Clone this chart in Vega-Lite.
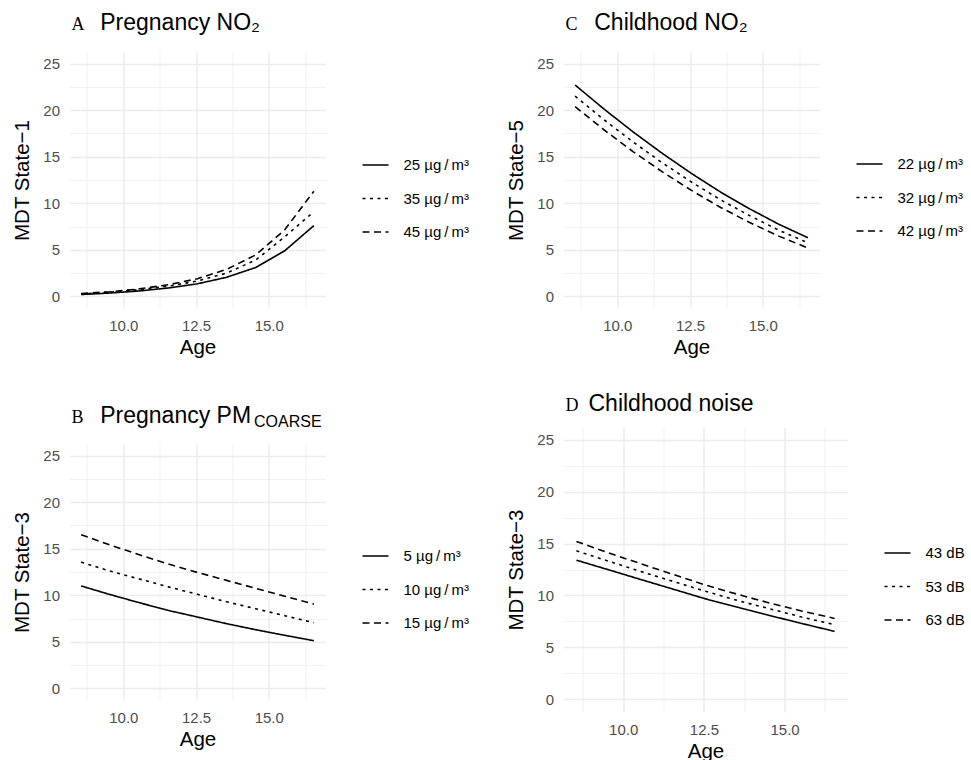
{
  "$schema": "https://vega.github.io/schema/vega-lite/v6.json",
  "padding": {"left": 11.5, "top": 12, "right": 5, "bottom": 5},
  "datasets": {
    "a": [
      {"age": 8.55, "level": "25 µg\u2009/\u2009m³", "value": 0.2},
      {"age": 9.55, "level": "25 µg\u2009/\u2009m³", "value": 0.36},
      {"age": 10.55, "level": "25 µg\u2009/\u2009m³", "value": 0.58},
      {"age": 11.55, "level": "25 µg\u2009/\u2009m³", "value": 0.9},
      {"age": 12.55, "level": "25 µg\u2009/\u2009m³", "value": 1.35},
      {"age": 13.55, "level": "25 µg\u2009/\u2009m³", "value": 2.05},
      {"age": 14.55, "level": "25 µg\u2009/\u2009m³", "value": 3.1},
      {"age": 15.55, "level": "25 µg\u2009/\u2009m³", "value": 4.9},
      {"age": 16.55, "level": "25 µg\u2009/\u2009m³", "value": 7.6},
      {"age": 8.55, "level": "35 µg\u2009/\u2009m³", "value": 0.25},
      {"age": 9.55, "level": "35 µg\u2009/\u2009m³", "value": 0.45},
      {"age": 10.55, "level": "35 µg\u2009/\u2009m³", "value": 0.72},
      {"age": 11.55, "level": "35 µg\u2009/\u2009m³", "value": 1.1},
      {"age": 12.55, "level": "35 µg\u2009/\u2009m³", "value": 1.65},
      {"age": 13.55, "level": "35 µg\u2009/\u2009m³", "value": 2.5},
      {"age": 14.55, "level": "35 µg\u2009/\u2009m³", "value": 3.9},
      {"age": 15.55, "level": "35 µg\u2009/\u2009m³", "value": 6.4},
      {"age": 16.55, "level": "35 µg\u2009/\u2009m³", "value": 9.1},
      {"age": 8.55, "level": "45 µg\u2009/\u2009m³", "value": 0.3},
      {"age": 9.55, "level": "45 µg\u2009/\u2009m³", "value": 0.5},
      {"age": 10.55, "level": "45 µg\u2009/\u2009m³", "value": 0.8},
      {"age": 11.55, "level": "45 µg\u2009/\u2009m³", "value": 1.25},
      {"age": 12.55, "level": "45 µg\u2009/\u2009m³", "value": 1.9},
      {"age": 13.55, "level": "45 µg\u2009/\u2009m³", "value": 2.9},
      {"age": 14.55, "level": "45 µg\u2009/\u2009m³", "value": 4.45},
      {"age": 15.55, "level": "45 µg\u2009/\u2009m³", "value": 7.15},
      {"age": 16.55, "level": "45 µg\u2009/\u2009m³", "value": 11.3}
    ],
    "b": [
      {"age": 8.55, "level": "5 µg\u2009/\u2009m³", "value": 11.0},
      {"age": 9.55, "level": "5 µg\u2009/\u2009m³", "value": 10.07},
      {"age": 10.55, "level": "5 µg\u2009/\u2009m³", "value": 9.2},
      {"age": 11.55, "level": "5 µg\u2009/\u2009m³", "value": 8.37},
      {"age": 12.55, "level": "5 µg\u2009/\u2009m³", "value": 7.66},
      {"age": 13.55, "level": "5 µg\u2009/\u2009m³", "value": 6.95},
      {"age": 14.55, "level": "5 µg\u2009/\u2009m³", "value": 6.3},
      {"age": 15.55, "level": "5 µg\u2009/\u2009m³", "value": 5.7},
      {"age": 16.55, "level": "5 µg\u2009/\u2009m³", "value": 5.12},
      {"age": 8.55, "level": "10 µg\u2009/\u2009m³", "value": 13.55},
      {"age": 9.55, "level": "10 µg\u2009/\u2009m³", "value": 12.6},
      {"age": 10.55, "level": "10 µg\u2009/\u2009m³", "value": 11.75},
      {"age": 11.55, "level": "10 µg\u2009/\u2009m³", "value": 10.9},
      {"age": 12.55, "level": "10 µg\u2009/\u2009m³", "value": 10.1},
      {"age": 13.55, "level": "10 µg\u2009/\u2009m³", "value": 9.3},
      {"age": 14.55, "level": "10 µg\u2009/\u2009m³", "value": 8.55},
      {"age": 15.55, "level": "10 µg\u2009/\u2009m³", "value": 7.8},
      {"age": 16.55, "level": "10 µg\u2009/\u2009m³", "value": 7.05},
      {"age": 8.55, "level": "15 µg\u2009/\u2009m³", "value": 16.5},
      {"age": 9.55, "level": "15 µg\u2009/\u2009m³", "value": 15.4},
      {"age": 10.55, "level": "15 µg\u2009/\u2009m³", "value": 14.35},
      {"age": 11.55, "level": "15 µg\u2009/\u2009m³", "value": 13.35},
      {"age": 12.55, "level": "15 µg\u2009/\u2009m³", "value": 12.45},
      {"age": 13.55, "level": "15 µg\u2009/\u2009m³", "value": 11.6},
      {"age": 14.55, "level": "15 µg\u2009/\u2009m³", "value": 10.75},
      {"age": 15.55, "level": "15 µg\u2009/\u2009m³", "value": 9.9},
      {"age": 16.55, "level": "15 µg\u2009/\u2009m³", "value": 9.05}
    ],
    "c": [
      {"age": 8.55, "level": "22 µg\u2009/\u2009m³", "value": 22.7},
      {"age": 9.55, "level": "22 µg\u2009/\u2009m³", "value": 20.1},
      {"age": 10.55, "level": "22 µg\u2009/\u2009m³", "value": 17.65},
      {"age": 11.55, "level": "22 µg\u2009/\u2009m³", "value": 15.35},
      {"age": 12.55, "level": "22 µg\u2009/\u2009m³", "value": 13.2},
      {"age": 13.55, "level": "22 µg\u2009/\u2009m³", "value": 11.2},
      {"age": 14.55, "level": "22 µg\u2009/\u2009m³", "value": 9.4},
      {"age": 15.55, "level": "22 µg\u2009/\u2009m³", "value": 7.75},
      {"age": 16.55, "level": "22 µg\u2009/\u2009m³", "value": 6.3},
      {"age": 8.55, "level": "32 µg\u2009/\u2009m³", "value": 21.5},
      {"age": 9.55, "level": "32 µg\u2009/\u2009m³", "value": 18.95},
      {"age": 10.55, "level": "32 µg\u2009/\u2009m³", "value": 16.57},
      {"age": 11.55, "level": "32 µg\u2009/\u2009m³", "value": 14.34},
      {"age": 12.55, "level": "32 µg\u2009/\u2009m³", "value": 12.28},
      {"age": 13.55, "level": "32 µg\u2009/\u2009m³", "value": 10.37},
      {"age": 14.55, "level": "32 µg\u2009/\u2009m³", "value": 8.67},
      {"age": 15.55, "level": "32 µg\u2009/\u2009m³", "value": 7.11},
      {"age": 16.55, "level": "32 µg\u2009/\u2009m³", "value": 5.75},
      {"age": 8.55, "level": "42 µg\u2009/\u2009m³", "value": 20.38},
      {"age": 9.55, "level": "42 µg\u2009/\u2009m³", "value": 17.87},
      {"age": 10.55, "level": "42 µg\u2009/\u2009m³", "value": 15.53},
      {"age": 11.55, "level": "42 µg\u2009/\u2009m³", "value": 13.37},
      {"age": 12.55, "level": "42 µg\u2009/\u2009m³", "value": 11.38},
      {"age": 13.55, "level": "42 µg\u2009/\u2009m³", "value": 9.55},
      {"age": 14.55, "level": "42 µg\u2009/\u2009m³", "value": 7.93},
      {"age": 15.55, "level": "42 µg\u2009/\u2009m³", "value": 6.47},
      {"age": 16.55, "level": "42 µg\u2009/\u2009m³", "value": 5.2}
    ],
    "d": [
      {"age": 8.55, "level": "43 dB", "value": 13.4},
      {"age": 9.55, "level": "43 dB", "value": 12.47},
      {"age": 10.55, "level": "43 dB", "value": 11.53},
      {"age": 11.55, "level": "43 dB", "value": 10.6},
      {"age": 12.55, "level": "43 dB", "value": 9.67},
      {"age": 13.55, "level": "43 dB", "value": 8.85},
      {"age": 14.55, "level": "43 dB", "value": 8.05},
      {"age": 15.55, "level": "43 dB", "value": 7.28},
      {"age": 16.55, "level": "43 dB", "value": 6.53},
      {"age": 8.55, "level": "53 dB", "value": 14.3},
      {"age": 9.55, "level": "53 dB", "value": 13.3},
      {"age": 10.55, "level": "53 dB", "value": 12.3},
      {"age": 11.55, "level": "53 dB", "value": 11.35},
      {"age": 12.55, "level": "53 dB", "value": 10.4},
      {"age": 13.55, "level": "53 dB", "value": 9.5},
      {"age": 14.55, "level": "53 dB", "value": 8.7},
      {"age": 15.55, "level": "53 dB", "value": 7.9},
      {"age": 16.55, "level": "53 dB", "value": 7.17},
      {"age": 8.55, "level": "63 dB", "value": 15.2},
      {"age": 9.55, "level": "63 dB", "value": 14.1},
      {"age": 10.55, "level": "63 dB", "value": 13.05},
      {"age": 11.55, "level": "63 dB", "value": 12.02},
      {"age": 12.55, "level": "63 dB", "value": 11.0},
      {"age": 13.55, "level": "63 dB", "value": 10.1},
      {"age": 14.55, "level": "63 dB", "value": 9.25},
      {"age": 15.55, "level": "63 dB", "value": 8.48},
      {"age": 16.55, "level": "63 dB", "value": 7.78}
    ]
  },
  "hconcat": [
    {
      "spacing": 47,
      "resolve": {"scale": {"strokeDash": "independent"}, "legend": {"strokeDash": "independent"}},
      "vconcat": [
        {
          "width": 256, "height": 256,
          "title": {"text": "A", "subtitle": "\u200b\u2003\u2005Pregnancy NO\u2082", "offset": 13},
          "data": {"name": "a"},
          "mark": {"type": "line", "color": "black", "strokeWidth": 1.6},
          "encoding": {
            "x": {"field": "age", "type": "quantitative", "scale": {"domain": [8.15, 16.95], "nice": false, "zero": false},
              "axis": {"title": "Age", "values": [8.75, 10, 11.25, 12.5, 13.75, 15, 16.25], "format": ".1f", "labelExpr": "datum.value % 2.5 === 0 ? datum.label : ''", "gridWidth": {"condition": {"test": "datum.value % 2.5 === 0", "value": 1.4}, "value": 0.7}}},
            "y": {"field": "value", "type": "quantitative", "scale": {"domain": [-1.25, 26.25], "nice": false, "zero": false},
              "axis": {"title": "MDT State\u22121", "values": [0, 2.5, 5, 7.5, 10, 12.5, 15, 17.5, 20, 22.5, 25], "format": ".0f", "labelExpr": "datum.value % 5 === 0 ? datum.label : ''", "gridWidth": {"condition": {"test": "datum.value % 5 === 0", "value": 1.4}, "value": 0.7}}},
            "strokeDash": {"field": "level", "type": "nominal",
              "scale": {"domain": ["25 µg\u2009/\u2009m³", "35 µg\u2009/\u2009m³", "45 µg\u2009/\u2009m³"], "range": [[1, 0], [3, 4.5], [7, 4.5]]},
              "legend": {"title": null, "orient": "none", "legendX": 292, "legendY": 99}}
          }
        },
        {
          "width": 256, "height": 256,
          "title": {"text": "B", "subtitle": "\u200b\u2003\u2005Pregnancy PM", "offset": -19},
          "data": {"name": "b"},
          "layer": [
            {
              "mark": {"type": "line", "color": "black", "strokeWidth": 1.6},
              "encoding": {
                "x": {"field": "age", "type": "quantitative", "scale": {"domain": [8.15, 16.95], "nice": false, "zero": false},
                  "axis": {"title": "Age", "values": [8.75, 10, 11.25, 12.5, 13.75, 15, 16.25], "format": ".1f", "labelExpr": "datum.value % 2.5 === 0 ? datum.label : ''", "gridWidth": {"condition": {"test": "datum.value % 2.5 === 0", "value": 1.4}, "value": 0.7}}},
                "y": {"field": "value", "type": "quantitative", "scale": {"domain": [-1.25, 26.25], "nice": false, "zero": false},
                  "axis": {"title": "MDT State\u22123", "values": [0, 2.5, 5, 7.5, 10, 12.5, 15, 17.5, 20, 22.5, 25], "format": ".0f", "labelExpr": "datum.value % 5 === 0 ? datum.label : ''", "gridWidth": {"condition": {"test": "datum.value % 5 === 0", "value": 1.4}, "value": 0.7}}},
                "strokeDash": {"field": "level", "type": "nominal",
                  "scale": {"domain": ["5 µg\u2009/\u2009m³", "10 µg\u2009/\u2009m³", "15 µg\u2009/\u2009m³"], "range": [[1, 0], [3, 4.5], [7, 4.5]]},
                  "legend": {"title": null, "orient": "none", "legendX": 292, "legendY": 98}}
              }
            },
            {
              "mark": {"type": "rule", "opacity": 0},
              "encoding": {
                "x": {"field": "age", "type": "quantitative", "scale": {"domain": [8.15, 16.95], "nice": false, "zero": false},
                  "axis": {"orient": "top", "title": "COARSE", "titleX": 184, "titleY": -18, "titleAlign": "left", "titleBaseline": "alphabetic", "titleFontSize": 16, "labels": false, "grid": false, "ticks": false, "domain": false}}
              }
            }
          ],
          "resolve": {"scale": {"x": "independent"}, "axis": {"x": "independent"}}
        }
      ]
    },
    {
      "spacing": 35,
      "resolve": {"scale": {"strokeDash": "independent"}, "legend": {"strokeDash": "independent"}},
      "vconcat": [
        {
          "width": 256, "height": 256,
          "title": {"text": "C", "subtitle": "\u200b\u2003\u2005Childhood NO\u2082", "offset": 13},
          "data": {"name": "c"},
          "mark": {"type": "line", "color": "black", "strokeWidth": 1.6},
          "encoding": {
            "x": {"field": "age", "type": "quantitative", "scale": {"domain": [8.15, 16.95], "nice": false, "zero": false},
              "axis": {"title": "Age", "values": [8.75, 10, 11.25, 12.5, 13.75, 15, 16.25], "format": ".1f", "labelExpr": "datum.value % 2.5 === 0 ? datum.label : ''", "gridWidth": {"condition": {"test": "datum.value % 2.5 === 0", "value": 1.4}, "value": 0.7}}},
            "y": {"field": "value", "type": "quantitative", "scale": {"domain": [-1.25, 26.25], "nice": false, "zero": false},
              "axis": {"title": "MDT State\u22125", "values": [0, 2.5, 5, 7.5, 10, 12.5, 15, 17.5, 20, 22.5, 25], "format": ".0f", "labelExpr": "datum.value % 5 === 0 ? datum.label : ''", "gridWidth": {"condition": {"test": "datum.value % 5 === 0", "value": 1.4}, "value": 0.7}}},
            "strokeDash": {"field": "level", "type": "nominal",
              "scale": {"domain": ["22 µg\u2009/\u2009m³", "32 µg\u2009/\u2009m³", "42 µg\u2009/\u2009m³"], "range": [[1, 0], [3, 4.5], [7, 4.5]]},
              "legend": {"title": null, "orient": "none", "legendX": 292, "legendY": 98}}
          }
        },
        {
          "width": 284, "height": 285,
          "title": {"text": "D", "subtitle": "\u200b\u2003Childhood noise", "offset": 7},
          "data": {"name": "d"},
          "mark": {"type": "line", "color": "black", "strokeWidth": 1.6},
          "encoding": {
            "x": {"field": "age", "type": "quantitative", "scale": {"domain": [8.15, 16.95], "nice": false, "zero": false},
              "axis": {"title": "Age", "values": [8.75, 10, 11.25, 12.5, 13.75, 15, 16.25], "format": ".1f", "labelExpr": "datum.value % 2.5 === 0 ? datum.label : ''", "gridWidth": {"condition": {"test": "datum.value % 2.5 === 0", "value": 1.4}, "value": 0.7}}},
            "y": {"field": "value", "type": "quantitative", "scale": {"domain": [-1.25, 26.25], "nice": false, "zero": false},
              "axis": {"title": "MDT State\u22123", "values": [0, 2.5, 5, 7.5, 10, 12.5, 15, 17.5, 20, 22.5, 25], "format": ".0f", "labelExpr": "datum.value % 5 === 0 ? datum.label : ''", "gridWidth": {"condition": {"test": "datum.value % 5 === 0", "value": 1.4}, "value": 0.7}}},
            "strokeDash": {"field": "level", "type": "nominal",
              "scale": {"domain": ["43 dB", "53 dB", "63 dB"], "range": [[1, 0], [3, 4.5], [7, 4.5]]},
              "legend": {"title": null, "orient": "none", "legendX": 320, "legendY": 112}}
          }
        }
      ]
    }
  ],
  "spacing": 36,
  "resolve": {"scale": {"strokeDash": "independent"}, "legend": {"strokeDash": "independent"}},
  "config": {
    "font": "Liberation Sans",
    "view": {"stroke": null},
    "axis": {"domain": false, "ticks": false, "gridColor": "#EBEBEB", "labelColor": "#4D4D4D", "labelFontSize": 15, "labelFont": "Liberation Sans", "labelPadding": 10, "labelOverlap": false, "labelFlush": false, "titleFont": "Liberation Sans", "titleFontSize": 20.5, "titleFontWeight": "normal", "titleColor": "#000000"},
    "axisX": {"titlePadding": 4},
    "axisY": {"titlePadding": 10.5},
    "legend": {"labelFontSize": 15, "labelFont": "Liberation Sans", "labelColor": "#000000", "symbolType": "stroke", "symbolSize": 676, "symbolStrokeWidth": 1.6, "symbolStrokeColor": "#000000", "rowPadding": 11.5, "labelOffset": 14, "padding": 0},
    "title": {"font": "Liberation Serif", "fontSize": 18, "fontWeight": "normal", "color": "#000000", "anchor": "start", "frame": "group", "dx": 2, "subtitleFont": "Liberation Sans", "subtitleFontSize": 23, "subtitleColor": "#000000", "subtitlePadding": -21.8}
  }
}
